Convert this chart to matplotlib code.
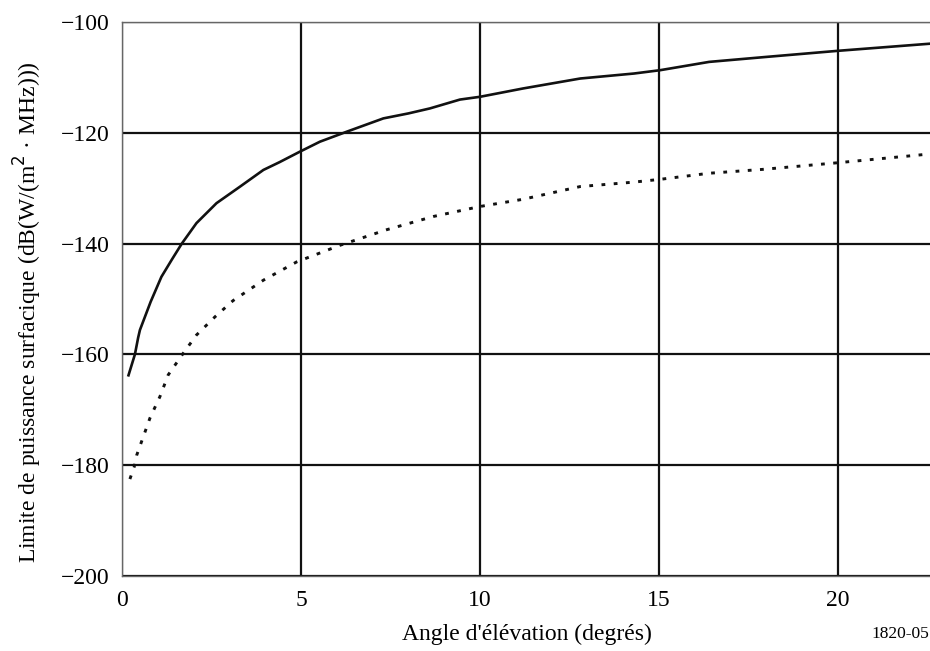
import numpy as np
import matplotlib.pyplot as plt

# values
angle_solid = [0.17, 0.36, 0.45, 0.5, 0.8, 1.1, 1.4, 1.67, 2.08, 2.64, 3.3, 3.95, 4.4,
               4.97, 5.53, 6.32, 7.3, 8.0, 8.6, 9.44, 10.0, 11.2, 12.8, 14.3, 15.03,
               16.4, 18.0, 20.0, 22.6]
pfd_solid = [-164, -160, -157, -155.6, -150.5, -146, -142.8, -140, -136.3, -132.7, -129.7,
             -126.7, -125.3, -123.4, -121.6, -119.7, -117.4, -116.5, -115.6, -114, -113.5,
             -112, -110.2, -109.3, -108.7, -107.2, -106.3, -105.2, -103.9]

angle_dot = [0.22, 0.34, 0.41, 0.78, 1.06, 1.29, 1.71, 2.08, 2.6, 3.1, 3.95, 4.88, 6.09,
             7.39, 8.7, 10.0, 11.2, 12.8, 14.3, 15.03, 16.4, 17.9, 20.0, 22.6]
pfd_dot = [-182.5, -180.3, -178.2, -171.5, -167.6, -163.7, -159.8, -156.5, -153.2, -150.3,
           -146.6, -143.3, -140.3, -137.5, -135.1, -133.3, -132, -129.7, -128.9, -128.4,
           -127.3, -126.6, -125.4, -123.8]

xticks = [0, 5, 10, 15, 20]
yticks = [-200, -180, -160, -140, -120, -100]

plt.rcParams['font.family'] = 'Liberation Serif'
plt.rcParams['axes.unicode_minus'] = True

fig = plt.figure(figsize=(9.3, 6.51), dpi=100)
ax = fig.add_axes([0.1312, 0.1152, 0.8688, 0.851])

ax.plot(angle_solid, pfd_solid, color='#111111', lw=1.9, solid_capstyle='butt')
ax.plot(angle_dot, pfd_dot, color='#111111', lw=2.1, linestyle=(0, (1.3, 2.9)),
        dash_capstyle='butt')

ax.set_xlim(0, 22.57)
ax.set_ylim(-200, -100)
ax.set_xticks(xticks)
ax.set_yticks(yticks)
ax.set_yticklabels(['\u2212' + str(abs(v)) for v in yticks])
ax.grid(True, color='#111111', lw=1.6)
ax.set_axisbelow(True)
ax.tick_params(length=0, labelsize=17)
ax.tick_params(axis='x', pad=10)
ax.tick_params(axis='y', pad=9)

for s in ['left', 'bottom', 'top']:
    ax.spines[s].set_color('#666666')
    ax.spines[s].set_linewidth(1.0)
ax.spines['right'].set_visible(False)

fig.text(0.030, 0.52, 'Limite de puissance surfacique (dB(W/(m$^2$ \u00b7 MHz)))',
         rotation=90, ha='center', va='center', fontsize=17)
fig.text(0.567, 0.025, "Angle d'\u00e9l\u00e9vation (degr\u00e9s)", ha='center', va='center',
         fontsize=17)
fig.text(0.999, 0.026, '1820-05', ha='right', va='center', fontsize=12.5)

fig.savefig('out.png', dpi=100)
